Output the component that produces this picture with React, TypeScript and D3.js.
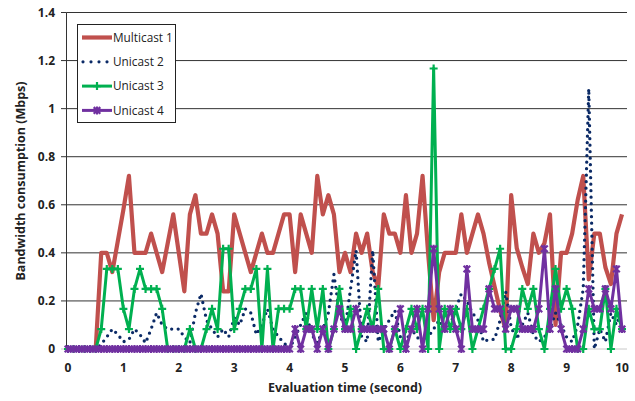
import * as d3 from "d3";

// time axis: one sample every 0.1 s
const times = d3.range(0, 101).map(i => i / 10);

const multicast1 = [
  0, 0, 0, 0, 0, 0, 0.4, 0.4, 0.32, 0.45,
  0.58, 0.72, 0.4, 0.4, 0.4, 0.48, 0.4, 0.32, 0.44, 0.56,
  0.4, 0.24, 0.56, 0.64, 0.48, 0.48, 0.56, 0.48, 0.24, 0.24,
  0.56, 0.48, 0.4, 0.32, 0.4, 0.48, 0.4, 0.4, 0.48, 0.56,
  0.56, 0.32, 0.56, 0.48, 0.4, 0.72, 0.56, 0.64, 0.56, 0.32,
  0.4, 0.32, 0.48, 0.4, 0.48, 0.32, 0.26, 0.56, 0.48, 0.48,
  0.4, 0.64, 0.4, 0.48, 0.72, 0.4, 0.12, 0.32, 0.4, 0.4,
  0.4, 0.56, 0.4, 0.48, 0.56, 0.48, 0.36, 0.26, 0.16, 0.08,
  0.64, 0.42, 0.34, 0.27, 0.48, 0.4, 0.44, 0.56, 0.1, 0.4,
  0.4, 0.48, 0.62, 0.72, 0.29, 0.48, 0.48, 0.34, 0.27, 0.48,
  0.56
];

const unicast2 = [
  0, 0, 0, 0, 0, 0, 0.02, 0.05, 0.083, 0.06,
  0.03, 0.04, 0.083, 0.06, 0.025, 0.083, 0.15, 0.1, 0.083, 0.083,
  0.083, 0.05, 0.025, 0.15, 0.23, 0.12, 0.083, 0.05, 0.083, 0.05,
  0.13, 0.1, 0.167, 0.15, 0.06, 0.1, 0.167, 0.083, 0.05, 0.025,
  0, 0.05, 0.1, 0.15, 0.06, 0.025, 0.08, 0.15, 0.31, 0.15,
  0.083, 0.25, 0.41, 0.05, 0.03, 0.41, 0.03, 0.083, 0.12, 0.16,
  0.05, 0.03, 0.083, 0.05, 0.025, 0.05, 0.083, 0.12, 0.083, 0.1,
  0.167, 0.23, 0.2, 0.15, 0.12, 0.03, 0.04, 0.04, 0.12, 0.24,
  0.09, 0.04, 0.1, 0.15, 0.06, 0.03, 0.05, 0.083, 0.15, 0.1,
  0.05, 0.03, 0.1, 0.25, 1.083, 0, 0.083, 0.03, 0.15, 0.1,
  0.167
];

const unicast3 = [
  0, 0, 0, 0, 0, 0, 0.083, 0.333, 0.333, 0.333,
  0.167, 0.083, 0.25, 0.333, 0.25, 0.25, 0.25, 0.167, 0, 0,
  0, 0, 0.083, 0, 0, 0.083, 0.167, 0.083, 0.417, 0.417,
  0.083, 0.167, 0.25, 0.25, 0.333, 0, 0.333, 0, 0.167, 0.167,
  0.167, 0.25, 0.25, 0.083, 0.25, 0.083, 0.25, 0, 0.083, 0.25,
  0.083, 0.167, 0, 0.083, 0.167, 0.083, 0.25, 0, 0, 0.083,
  0, 0.083, 0.167, 0.083, 0.167, 0, 1.167, 0, 0.167, 0.083,
  0.167, 0.083, 0.167, 0, 0.083, 0.167, 0.25, 0.333, 0.417, 0,
  0, 0.083, 0.25, 0.167, 0.25, 0.083, 0, 0.167, 0.333, 0.167,
  0.25, 0.167, 0, 0, 0.167, 0.083, 0.083, 0.25, 0, 0.167,
  0.083
];

const unicast4 = [
  0, 0, 0, 0, 0, 0, 0, 0, 0, 0,
  0, 0, 0, 0, 0, 0, 0, 0, 0, 0,
  0, 0, 0, 0, 0, 0, 0, 0, 0, 0,
  0, 0, 0, 0, 0, 0, 0, 0, 0, 0,
  0, 0.083, 0, 0.083, 0.083, 0, 0.083, 0, 0.083, 0.167,
  0.083, 0.083, 0.167, 0.083, 0.083, 0.083, 0.083, 0.083, 0, 0.083,
  0.167, 0, 0.083, 0.167, 0, 0.167, 0.417, 0.167, 0.083, 0.167,
  0.083, 0, 0.333, 0.083, 0.083, 0.083, 0.25, 0.167, 0.167, 0.083,
  0.167, 0.167, 0.083, 0.083, 0.083, 0.167, 0.417, 0.083, 0.25, 0.083,
  0, 0, 0, 0.083, 0.25, 0.167, 0.167, 0.25, 0.167, 0.333,
  0.083
];

const seriesNames = ["Multicast 1", "Unicast 2", "Unicast 3", "Unicast 4"];
const yTicks = [0, 0.2, 0.4, 0.6, 0.8, 1, 1.2, 1.4];
const xTicks = [0, 1, 2, 3, 4, 5, 6, 7, 8, 9, 10];

const colors = {
  red: "#C0504D",
  navy: "#0B2A66",
  green: "#00B050",
  purple: "#7030A0"
};

const font = "'Open Sans', 'Noto Sans', sans-serif";

const x = d3.scaleLinear().domain([0, 10]).range([68, 622]);
const y = d3.scaleLinear().domain([0, 1.4]).range([349, 12.5]);

const lineOf = (vals: number[]) =>
  d3.line<number>()
    .x((d, i) => x(times[i]))
    .y(d => y(d))(vals) || "";

const plusPath = "M-4,0H4M0,-4V4";
const starPath = "M-3.3,-3.3L3.3,3.3M-3.3,3.3L3.3,-3.3M0,-4V4";

export default function App() {
  const axisX = 66.5;
  const right = 627;

  return (
    <svg width={635} height={401} style={{ position: "fixed", left: 0, top: 0, background: "#fff" }}>
      <rect width={635} height={401} fill="#fff" />

      {/* grid */}
      {yTicks.map(t => (
        <g key={t}>
          <line x1={61} x2={t === 0 ? right : axisX} y1={y(t)} y2={y(t)} stroke={t === 0 ? "#c8c8c8" : "#333"} />
          {t !== 0 && <line x1={axisX} x2={right} y1={y(t)} y2={y(t)} stroke="#333" />}
          <text x={55} y={y(t)} dy="0.35em" textAnchor="end" fontFamily={font} fontWeight={700} fontSize={12} fill="#222">
            {t}
          </text>
        </g>
      ))}
      <line x1={axisX} x2={axisX} y1={y(1.4)} y2={y(0)} stroke="#333" />

      {xTicks.map(t => (
        <text key={t} x={x(t)} y={368} dy="0.35em" textAnchor="middle" fontFamily={font} fontWeight={700} fontSize={12} fill="#222">
          {t}
        </text>
      ))}

      <text x={345} y={388} dy="0.35em" textAnchor="middle" fontFamily={font} fontWeight={700} fontSize={12.5} fill="#222">
        Evaluation time (second)
      </text>
      <text transform="translate(21,181) rotate(-90)" textAnchor="middle" dy="0.35em" fontFamily={font} fontWeight={700} fontSize={12.5} fill="#222">
        Bandwidth consumption (Mbps)
      </text>

      {/* series */}
      <path d={lineOf(multicast1)} fill="none" stroke={colors.red} strokeWidth={4.2} strokeLinejoin="round" />
      <path d={lineOf(unicast2)} fill="none" stroke={colors.navy} strokeWidth={3.3} strokeDasharray="0 6.5" strokeLinecap="round" />
      <path d={lineOf(unicast3)} fill="none" stroke={colors.green} strokeWidth={3} strokeLinejoin="round" />
      {unicast3.map((v, i) => (
        <path key={i} d={plusPath} transform={`translate(${x(times[i])},${y(v)})`} stroke={colors.green} strokeWidth={2.2} />
      ))}
      <path d={lineOf(unicast4)} fill="none" stroke={colors.purple} strokeWidth={3} strokeLinejoin="round" />
      {unicast4.map((v, i) => (
        <path key={i} d={starPath} transform={`translate(${x(times[i])},${y(v)})`} stroke={colors.purple} strokeWidth={2.2} />
      ))}

      {/* legend */}
      <g>
        <rect x={77.5} y={24.5} width={98} height={98} fill="#fff" stroke="#222" />
        {seriesNames.map((name, i) => {
          const ly = 37.5 + i * 24.3;
          return (
            <g key={name}>
              {i === 0 && <line x1={82} x2={112} y1={ly} y2={ly} stroke={colors.red} strokeWidth={4.2} />}
              {i === 1 && <line x1={83} x2={108} y1={ly} y2={ly} stroke={colors.navy} strokeWidth={3.2} strokeDasharray="0 8" strokeLinecap="round" />}
              {i === 2 && (
                <g>
                  <line x1={82} x2={112} y1={ly} y2={ly} stroke={colors.green} strokeWidth={3} />
                  <path d={plusPath} transform={`translate(97,${ly})`} stroke={colors.green} strokeWidth={2.2} />
                </g>
              )}
              {i === 3 && (
                <g>
                  <line x1={82} x2={112} y1={ly} y2={ly} stroke={colors.purple} strokeWidth={3} />
                  <path d={starPath} transform={`translate(97,${ly})`} stroke={colors.purple} strokeWidth={2.2} />
                </g>
              )}
              <text x={113} y={ly} dy="0.35em" fontFamily={font} fontSize={11.8} fill="#222">{name}</text>
            </g>
          );
        })}
      </g>
    </svg>
  );
}
